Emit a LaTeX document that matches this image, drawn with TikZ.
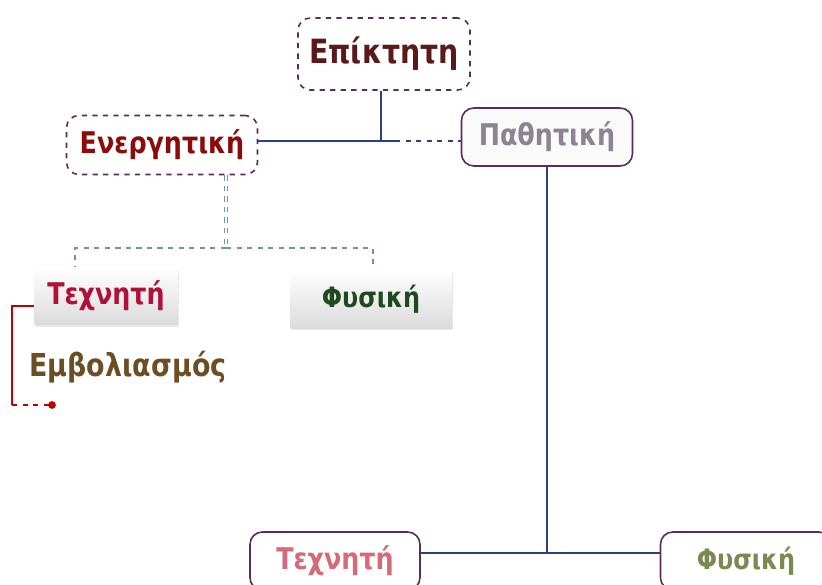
\documentclass[tikz,border=0pt]{standalone}
\usepackage{fontspec}
\setmainfont{DejaVu Sans}[FakeStretch=0.85]
\usetikzlibrary{shadows}
\definecolor{boxpurple}{HTML}{5B2A5E}
\definecolor{linkblue}{HTML}{2E3F7F}
\definecolor{dashblue}{HTML}{6A8FC0}
\definecolor{redline}{HTML}{C00000}
\begin{document}
\begin{tikzpicture}[
    dbox/.style={draw=boxpurple, dashed, line width=0.9pt, rounded corners=7pt},
    sbox/.style={draw=boxpurple, line width=0.9pt, rounded corners=7pt, fill=gray!4},
    gbox/.style={top color=white, bottom color=gray!28, drop shadow={shadow xshift=0.8pt, shadow yshift=-1.2pt, opacity=0.18}},
    link/.style={draw=linkblue, line width=1pt},
    bluelink/.style={draw=dashblue, dashed, line width=1.5pt},
    big/.style={font=\bfseries\fontsize{#1}{#1}\selectfont}]
    \useasboundingbox (0,0) rectangle (16.44,11.68);
    % boxes
    \node[dbox, minimum width=3.44cm, minimum height=1.44cm, big=19, text={rgb,255:red,90;green,26;blue,26}] (ep) at (7.68,10.60) {Επίκτητη};
    \node[dbox, minimum width=3.82cm, minimum height=1.18cm, big=17, text={rgb,255:red,139;green,10;blue,10}] (en) at (3.24,8.78) {Ενεργητική};
    \node[sbox, minimum width=3.42cm, minimum height=1.16cm, big=17, text={rgb,255:red,138;green,133;blue,144}] (pa) at (10.94,8.94) {Παθητική};
    \node[gbox, minimum width=2.86cm, minimum height=1.14cm, big=17, text={rgb,255:red,176;green,16;blue,58}] (tex1) at (2.12,5.76) {Τεχνητή};
    \node[gbox, minimum width=3.22cm, minimum height=1.16cm, big=16, text={rgb,255:red,31;green,74;blue,31}] (fys1) at (7.42,5.70) {Φυσική};
    \node[big=18, text={rgb,255:red,107;green,78;blue,36}] (emv) at (2.56,4.34) {Εμβολιασμός};
    \node[sbox, fill=white, minimum width=3.40cm, minimum height=1.16cm, big=17, text={rgb,255:red,212;green,106;blue,122}] (tex2) at (6.70,0.46) {Τεχνητή};
    \node[sbox, fill=white, minimum width=3.42cm, minimum height=1.16cm, big=16, text={rgb,255:red,122;green,138;blue,80}] (fys2) at (14.92,0.46) {Φυσική};
    % connectors
    \coordinate (j1) at (7.62,8.86);
    \coordinate (jd) at (7.90,8.86);
    \draw[link] (ep.south -| j1) -- (j1);
    \draw[link] (en.east |- j1) -- (jd);
    \draw[link, dashed] (jd) -- (pa.west |- jd);
    \coordinate (jb) at (4.52,6.72);
    \draw[bluelink, double=white, double distance=0.8pt, line width=1pt] (en.south -| jb) -- (jb);
    \draw[bluelink] (jb) -| (tex1.north -| 1.5,0);
    \draw[bluelink] (jb) -| (fys1.north -| 7.46,0);
    \coordinate (jr) at (0.24,3.58);
    \coordinate (dot) at (1.04,3.58);
    \draw[redline, line width=1pt] (tex1.west |- 0,5.56) -- (0.24,5.56) -- (jr);
    \draw[redline, dashed, line width=0.8pt] (jr) -- (dot);
    \fill[redline] (dot) circle (2.2pt);
    \coordinate (j2) at (10.94,0.62);
    \draw[link] (pa.south -| j2) -- (j2);
    \draw[link] (tex2.east |- j2) -- (fys2.west |- j2);
\end{tikzpicture}
\end{document}
